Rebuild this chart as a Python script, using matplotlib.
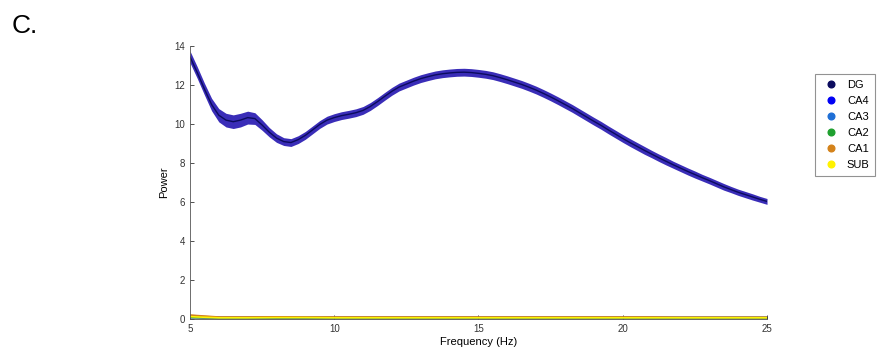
import numpy as np
import matplotlib.pyplot as plt

plt.rcParams['font.family'] = ['Liberation Sans', 'DejaVu Sans']

# DG power spectrum, 0.25 Hz grid from 5 to 25 Hz
freq = np.arange(5, 25.01, 0.25)
dg_mean = [13.45, 12.65, 11.8, 11.0, 10.45, 10.2, 10.12, 10.2, 10.33, 10.28,
           9.95, 9.58, 9.28, 9.1, 9.05, 9.2, 9.42, 9.7, 9.98, 10.2,
           10.33, 10.43, 10.5, 10.58, 10.7, 10.9, 11.15, 11.42, 11.68, 11.9,
           12.05, 12.2, 12.33, 12.43, 12.52, 12.58, 12.62, 12.65, 12.66, 12.64,
           12.6, 12.55, 12.48, 12.38, 12.27, 12.15, 12.03, 11.89, 11.74, 11.57,
           11.39, 11.2, 11.0, 10.8, 10.58, 10.36, 10.14, 9.93, 9.7, 9.48,
           9.26, 9.05, 8.85, 8.65, 8.46, 8.27, 8.09, 7.91, 7.74, 7.57,
           7.41, 7.25, 7.1, 6.94, 6.78, 6.64, 6.5, 6.38, 6.26, 6.14,
           6.03]
dg_sem = [0.3, 0.3, 0.3, 0.32, 0.34, 0.35, 0.35, 0.35, 0.33, 0.3,
          0.27, 0.24, 0.22, 0.2, 0.2, 0.2, 0.2, 0.2, 0.2, 0.2,
          0.2, 0.2, 0.2, 0.2, 0.2, 0.2, 0.2, 0.2, 0.2, 0.2,
          0.2, 0.2, 0.2, 0.2, 0.2, 0.2, 0.2, 0.2, 0.2, 0.2,
          0.2, 0.2, 0.2, 0.2, 0.2, 0.2, 0.2, 0.2, 0.2, 0.2,
          0.2, 0.2, 0.2, 0.2, 0.2, 0.2, 0.2, 0.2, 0.2, 0.2,
          0.2, 0.2, 0.2, 0.2, 0.19, 0.19, 0.19, 0.18, 0.18, 0.18,
          0.18, 0.17, 0.17, 0.17, 0.17, 0.16, 0.16, 0.16, 0.16, 0.15,
          0.15]

# the other subfields sit close to zero, 1 Hz grid
low_freq = [5, 6, 7, 8, 9, 10, 11, 12, 13, 14, 15, 16, 17, 18, 19, 20, 21, 22, 23, 24, 25]
ca4_mean = [0.1, 0.07, 0.07, 0.07, 0.07, 0.07, 0.07, 0.07, 0.07, 0.07, 0.07,
            0.07, 0.07, 0.07, 0.07, 0.07, 0.07, 0.07, 0.07, 0.07, 0.07]
ca3_mean = [0.1, 0.07, 0.07, 0.07, 0.07, 0.07, 0.07, 0.07, 0.07, 0.07, 0.07,
            0.07, 0.07, 0.07, 0.07, 0.07, 0.07, 0.07, 0.07, 0.07, 0.07]
ca2_mean = [0.1, 0.07, 0.07, 0.07, 0.07, 0.07, 0.07, 0.07, 0.07, 0.07, 0.07,
            0.07, 0.07, 0.07, 0.07, 0.07, 0.07, 0.07, 0.07, 0.07, 0.07]
ca1_mean = [0.2, 0.1, 0.1, 0.11, 0.1, 0.1, 0.1, 0.1, 0.1, 0.1, 0.1,
            0.1, 0.1, 0.1, 0.1, 0.1, 0.1, 0.09, 0.09, 0.09, 0.09]
sub_mean = [0.12, 0.06, 0.06, 0.07, 0.07, 0.06, 0.06, 0.06, 0.06, 0.06, 0.06,
            0.06, 0.06, 0.06, 0.06, 0.06, 0.06, 0.06, 0.06, 0.06, 0.06]
low_sem = 0.05

names = ['DG', 'CA4', 'CA3', 'CA2', 'CA1', 'SUB']
colors = ['#0b0b5e', '#0000f5', '#1f6fd6', '#1fa02f', '#d4821a', '#fff200']

fig = plt.figure(figsize=(8.77, 3.54), dpi=100)
ax = fig.add_axes([0.2166, 0.0989, 0.658, 0.771])

lf = np.array(low_freq)
for m, c in zip([ca4_mean, ca3_mean, ca2_mean, ca1_mean, sub_mean], colors[1:]):
    m = np.array(m)
    ax.fill_between(lf, m - low_sem, m + low_sem, color=c, alpha=0.6, lw=0)
    ax.plot(lf, m, color=c, lw=1.2)

m = np.array(dg_mean)
s = np.array(dg_sem)
ax.fill_between(freq, m - s, m + s, color='#3a2db8', lw=0)
ax.plot(freq, m, color='#0b0b5e', lw=1.0)

ax.set_xlim(5, 25)
ax.set_ylim(0, 14)
ax.set_xticks([5, 10, 15, 20, 25])
ax.set_yticks(range(0, 15, 2))
ax.tick_params(direction='in', length=3, labelsize=7, width=0.6, colors='#333333')
for side in ['top', 'right']:
    ax.spines[side].set_visible(False)
for side in ['left', 'bottom']:
    ax.spines[side].set_linewidth(0.6)
    ax.spines[side].set_color('#555555')
ax.set_xlabel('Frequency (Hz)', fontsize=8, labelpad=2)
ax.set_ylabel('Power', fontsize=8, labelpad=4)

handles = [plt.Line2D([], [], marker='o', ls='', color=c, markersize=4.8) for c in colors]
leg = fig.legend(handles, names, loc='upper left', bbox_to_anchor=(0.929, 0.791),
                 borderaxespad=0, fontsize=8, frameon=True, fancybox=False,
                 handletextpad=0.4, borderpad=0.5, labelspacing=0.55,
                 handlelength=2.0)
leg.get_frame().set_edgecolor('#777777')
leg.get_frame().set_linewidth(0.8)

fig.text(0.013, 0.907, 'C.', fontsize=19, va='baseline')

fig.savefig('out.png', dpi=100)
